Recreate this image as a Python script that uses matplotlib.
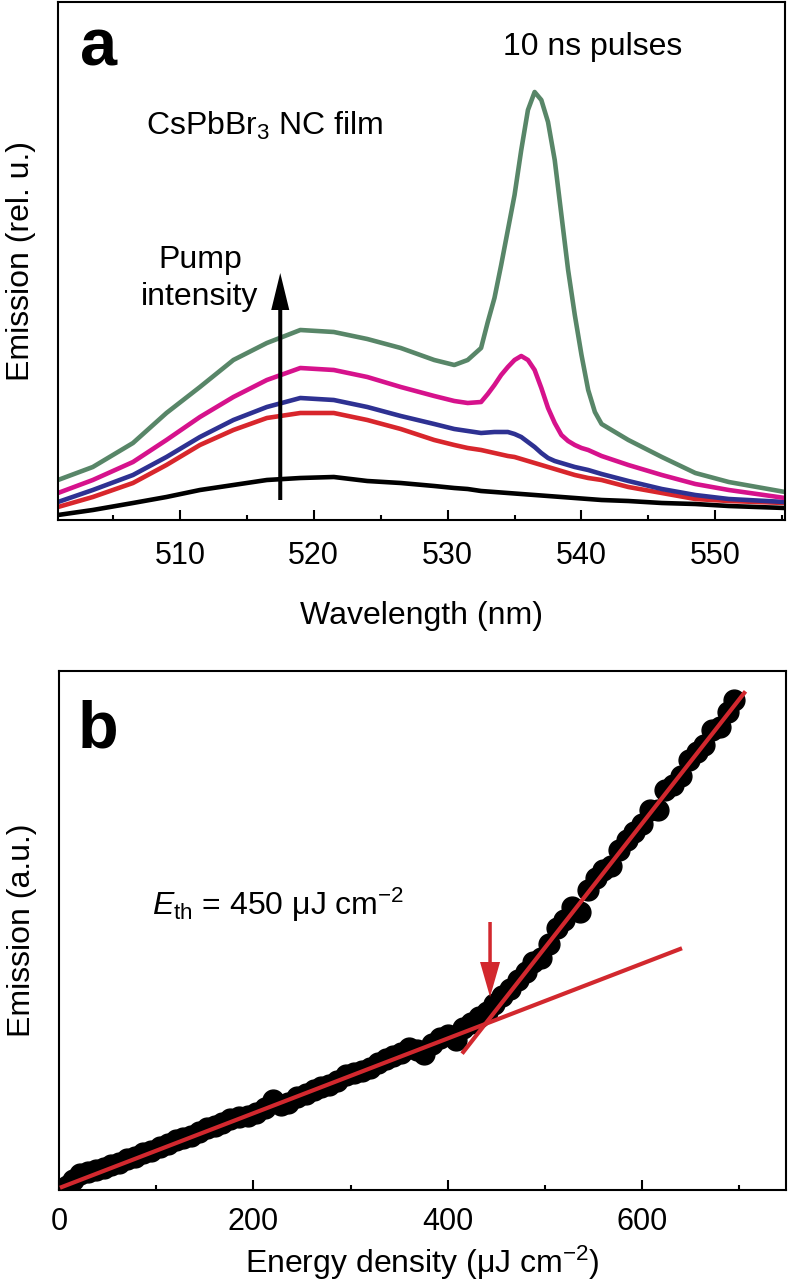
import numpy as np
import matplotlib
matplotlib.use('Agg')
import matplotlib.pyplot as plt
from matplotlib.ticker import MultipleLocator

plt.rcParams['font.family'] = ['Liberation Sans', 'DejaVu Sans']
plt.rcParams['mathtext.fontset'] = 'custom'
plt.rcParams['mathtext.rm'] = 'Liberation Sans'
plt.rcParams['mathtext.it'] = 'Liberation Sans:italic'
plt.rcParams['mathtext.bf'] = 'Liberation Sans:bold'

# --- panel a : emission spectra (rel. units) ---
wavelength = [500.9, 503.5, 506.5, 509, 511.5, 514, 516.5, 519, 521.5, 524, 526.5,
              529, 530.5, 531.5, 532.5, 533, 533.5, 534, 534.5, 535, 535.5, 536, 536.5,
              537, 537.5, 538, 538.5, 539, 539.5, 540, 540.5, 541, 541.5, 543.5, 546,
              548.5, 551, 555.2]
spec_black = [5, 10, 17, 23, 30, 35, 40, 42, 43, 39, 37, 34, 32, 31, 29, 28.5, 28, 27.5,
              27, 26.5, 26, 25.5, 25, 24.5, 24, 23.5, 23, 22.5, 22, 21.5, 21, 20.5, 20,
              19, 17, 16, 14, 12]
spec_red = [13, 23, 37, 55, 75, 90, 102, 107, 107, 100, 91, 80, 75, 72, 70, 68.5, 67,
            65.5, 64, 63, 61, 59, 57, 55, 53, 51, 49, 47, 45, 43.5, 42, 41, 40, 33, 27,
            21, 19, 17]
spec_blue = [18, 30, 45, 63, 83, 100, 113, 122, 120, 113, 104, 96, 91, 89, 87, 87.5, 88,
             88, 88, 86, 83, 78, 73, 67, 62, 59, 57, 55, 53, 51.5, 50, 48, 46, 39, 31,
             25, 21, 18]
spec_magenta = [27, 40, 58, 80, 103, 123, 140, 152, 150, 143, 133, 124, 119, 117, 118, 126,
                135, 145, 153, 160, 164, 160, 150, 132, 112, 97, 85, 79, 75, 72, 70, 67,
                64, 55, 45, 36, 30, 22]
spec_green = [40, 53, 77, 107, 133, 160, 177, 190, 188, 181, 172, 160, 155, 160, 172, 198,
              222, 255, 290, 325, 370, 410, 428, 420, 398, 360, 305, 250, 205, 165, 130,
              108, 96, 80, 63, 47, 38, 28]

# --- panel b : emission vs energy density ---
energy = [8, 14, 22, 30, 38, 46, 54, 62, 70, 78, 86, 95, 104, 112, 120, 128, 136, 144,
          152, 160, 168, 176, 185, 194, 203, 212, 220, 228, 236, 245, 254, 262, 270, 278,
          286, 295, 304, 312, 320, 328, 336, 344, 352, 360, 368, 376, 384, 392, 400, 408,
          416, 424, 432, 440, 448, 456, 464, 472, 480, 488, 496, 504, 512, 520, 528, 536,
          544, 552, 560, 568, 576, 584, 592, 600, 608, 616, 624, 632, 640, 648, 656, 664,
          672, 680, 688, 694]
emission = [4, 10, 16, 18, 20, 22, 25, 27, 31, 33, 37, 39, 43, 46, 50, 52, 54, 58,
            62, 64, 67, 71, 73, 74, 77, 82, 90, 85, 87, 93, 96, 100, 103, 105,
            109, 115, 117, 119, 122, 127, 131, 134, 137, 142, 140, 136, 146, 152, 155, 150,
            162, 167, 173, 178, 186, 194, 201, 210, 218, 228, 232, 246, 262, 270, 283, 278,
            300, 312, 320, 324, 340, 350, 358, 366, 380, 380, 400, 405, 414, 430, 438, 445,
            460, 463, 478, 490]
fit_low_e = [3, 639]
fit_low_y = [3, 241]
fit_high_e = [416, 705]
fit_high_y = [138, 497]
e_threshold = 443.5

red_fit = '#d2282e'

fig = plt.figure(figsize=(7.88, 12.85), dpi=100)
ax1 = fig.add_axes([58 / 788, 765 / 1285, 727 / 788, 518 / 1285])
ax2 = fig.add_axes([59 / 788, 95 / 1285, 727 / 788, 519 / 1285])

# panel a
ax1.plot(wavelength, spec_black, color='black', lw=3.3)
ax1.plot(wavelength, spec_red, color='#d8262c', lw=3.3)
ax1.plot(wavelength, spec_blue, color='#2e3192', lw=3.3)
ax1.plot(wavelength, spec_magenta, color='#d6128c', lw=3.3)
ax1.plot(wavelength, spec_green, color='#588668', lw=3.3)
ax1.arrow(517.5, 20, 0, 227, width=0.3, head_width=1.35, head_length=37,
          length_includes_head=True, fc='black', ec='none', zorder=5)

ax1.set_xlim(500.9, 555.2)
ax1.set_ylim(0, 518)
ax1.xaxis.set_major_locator(MultipleLocator(10))
ax1.xaxis.set_minor_locator(MultipleLocator(5))
ax1.set_yticks([])
ax1.tick_params(axis='x', which='both', direction='in', width=1.5, labelsize=22, pad=15)
ax1.tick_params(axis='x', which='major', length=7)
ax1.tick_params(axis='x', which='minor', length=3.6)
ax1.set_xlabel('Wavelength (nm)', fontsize=23, labelpad=22)
ax1.set_ylabel('Emission (rel. u.)', fontsize=23, labelpad=16)

ax1.text(0.03, 0.878, 'a', transform=ax1.transAxes, fontsize=48, fontweight='bold',
         ha='left', va='baseline')
ax1.text(540.8, 465, '10 ns pulses', fontsize=23, ha='center', va='baseline')
ax1.text(507.5, 385, 'CsPbBr$_3$ NC film', fontsize=23, ha='left', va='baseline')
ax1.text(511.5, 252, 'Pump', fontsize=23, ha='center', va='baseline')
ax1.text(511.5, 215, 'intensity', fontsize=23, ha='center', va='baseline')

# panel b
ax2.plot(energy, emission, 'o', color='black', ms=15, zorder=2)
ax2.plot(fit_low_e, fit_low_y, color=red_fit, lw=3, zorder=3)
ax2.plot(fit_high_e, fit_high_y, color=red_fit, lw=3, zorder=3)
ax2.arrow(e_threshold, 268, 0, -75, width=3.6, head_width=20.6, head_length=35,
          length_includes_head=True, fc=red_fit, ec='none', zorder=4)

ax2.set_xlim(0, 748)
ax2.set_ylim(0, 519)
ax2.xaxis.set_major_locator(MultipleLocator(200))
ax2.xaxis.set_minor_locator(MultipleLocator(100))
ax2.set_yticks([])
ax2.tick_params(axis='x', which='both', direction='in', width=1.5, labelsize=22, pad=12)
ax2.tick_params(axis='x', which='major', length=7)
ax2.tick_params(axis='x', which='minor', length=3.6)
ax2.set_xlabel('Energy density (μJ cm$^{-2}$)', fontsize=23, labelpad=5)
ax2.set_ylabel('Emission (a.u.)', fontsize=23, labelpad=16)

ax2.text(0.026, 0.852, 'b', transform=ax2.transAxes, fontsize=48, fontweight='bold',
         ha='left', va='baseline')
ax2.text(95.7, 275, '$E_{\\mathrm{th}}$ = 450 μJ cm$^{-2}$', fontsize=23,
         ha='left', va='baseline')

for ax in (ax1, ax2):
    for sp in ax.spines.values():
        sp.set_linewidth(1.5)

fig.savefig('out.png', dpi=100)
